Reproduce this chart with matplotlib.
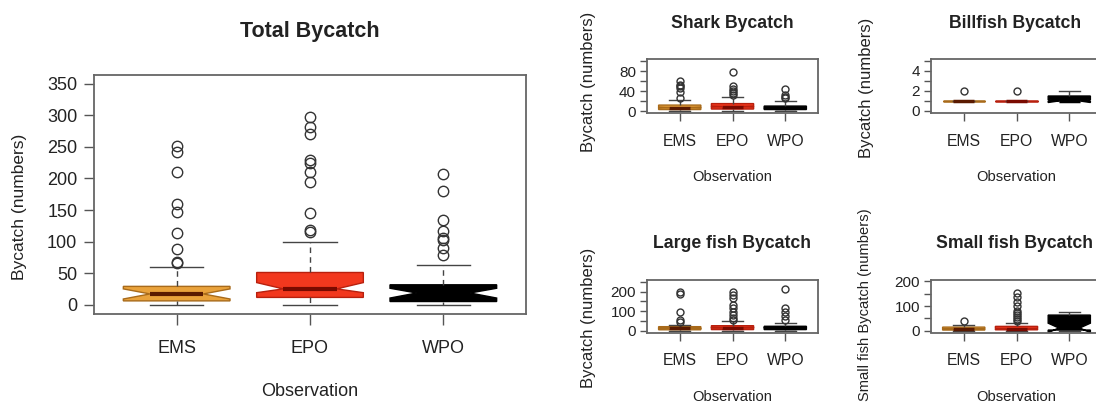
import matplotlib
matplotlib.use("Agg")
import matplotlib.pyplot as plt
from matplotlib.ticker import FixedLocator, FixedFormatter

W, H = 1096, 404

regions = ["EMS", "EPO", "WPO"]
fills = ["#E9A23B", "#F2381E", "#000000"]
edges = ["#A86A1A", "#B8200E", "#000000"]
medians = ["#5A1A00", "#7A0A00", "#000000"]

# whisker low, Q1, median, Q3, whisker high  (EMS, EPO, WPO)
total_stats = [[0, 6, 17, 29, 60], [0, 11.5, 25, 51, 100], [0, 5, 18.5, 31.5, 63]]
total_notch = [[9, 25], [19, 35], [10.5, 26]]
total_out = [[66, 68, 89, 113, 147, 160, 210, 242, 252],
             [115, 118, 145, 195, 210, 224, 230, 271, 282, 297],
             [78, 90, 102, 105, 116, 134, 180, 207]]

shark_stats = [[0, 3, 7, 12, 22], [0, 4, 9, 15, 29], [0, 3, 6, 10, 21]]
shark_notch = [[6, 8], [8, 10], [5, 7]]
shark_out = [[27, 39, 46, 50, 53, 60], [33, 37, 41, 44, 50, 78], [26, 29, 33, 44]]

billfish_stats = [[1, 1, 1, 1, 1], [1, 1, 1, 1, 1], [1, 1, 1, 1.5, 2]]
billfish_notch = [[1, 1], [1, 1], [0.85, 1.15]]
billfish_out = [[2], [2], []]

large_stats = [[0, 4, 12, 20, 31], [0, 5, 15, 25, 47], [0, 5, 14, 22, 39]]
large_notch = [[10, 14], [13, 17], [12, 16]]
large_out = [[42, 56, 98, 189, 200],
             [56, 64, 81, 98, 115, 132, 166, 183, 200],
             [56, 73, 98, 116, 213]]

small_stats = [[0, 2, 6, 14, 24], [0, 3, 8, 17, 31], [0, 2, 10.5, 63, 76]]
small_notch = [[5, 7], [7, 9], [-9, 30]]
small_out = [[37], [40, 48, 55, 62, 70, 78, 98, 116, 135, 155], []]

TXT = "#222222"
FAMILY = ["Liberation Sans", "DejaVu Sans"]

fig = plt.figure(figsize=(W / 100, H / 100), dpi=100)
fig.patch.set_facecolor("white")


def to_ax(box, px, py):
    l, t, r, b = box
    return (px - l) / (r - l), (b - py) / (b - t)


def panel(box, stats, notch, out, ylim, yticks, ylabels, title, ylab, texts,
          small=False, ylab_size=None):
    l, t, r, b = box
    ax = fig.add_axes([l / W, 1 - b / H, (r - l) / W, (b - t) / H])
    bstats = []
    for s, n, o, name in zip(stats, notch, out, regions):
        bstats.append(dict(whislo=s[0], q1=s[1], med=s[2], q3=s[3], whishi=s[4],
                           cilo=n[0], cihi=n[1], fliers=o, label=name))
    bp = ax.bxp(bstats, positions=[1, 2, 3], widths=0.8, shownotches=True,
                patch_artist=True, showcaps=True,
                whiskerprops=dict(color="#444444", lw=1.0, linestyle=(0, (4, 3))),
                capprops=dict(color="#444444", lw=1.0),
                flierprops=dict(marker="o", markerfacecolor="none",
                                markeredgecolor="#333333",
                                markersize=5 if small else 7.5, markeredgewidth=1.0))
    for i, patch in enumerate(bp["boxes"]):
        patch.set_facecolor(fills[i])
        patch.set_edgecolor(edges[i])
        patch.set_linewidth(1.0)
    for i, med in enumerate(bp["medians"]):
        med.set_color(medians[i])
        med.set_linewidth(2.5 if small else 3)

    ax.set_xlim(0.38, 3.62)
    ax.set_ylim(*ylim)
    ax.yaxis.set_major_locator(FixedLocator(yticks))
    ax.yaxis.set_major_formatter(FixedFormatter(ylabels))
    ax.set_xticks([1, 2, 3])
    ax.set_xticklabels(regions)
    for sp in ax.spines.values():
        sp.set_color("#666666")
        sp.set_linewidth(1.3)
    ax.tick_params(axis="both", colors="#555555", width=1.0, labelcolor=TXT)
    if small:
        ax.tick_params(axis="x", length=6, pad=9, labelsize=11.3)
        ax.tick_params(axis="y", length=5, pad=3, labelsize=11)
    else:
        ax.tick_params(axis="x", length=8, pad=11, labelsize=13)
        ax.tick_params(axis="y", length=7, pad=5, labelsize=13)
    for lab in ax.get_xticklabels() + ax.get_yticklabels():
        lab.set_family(FAMILY)

    tx, ty = to_ax(box, *texts["title"])
    ax.set_title(title, x=tx, y=ty, pad=0, fontsize=12.7 if small else 15.5,
                 fontweight="bold", family=FAMILY, color=TXT, va="center")
    ax.set_xlabel("Observation", fontsize=10.6 if small else 13, family=FAMILY,
                  color=TXT)
    ax.xaxis.set_label_coords(*to_ax(box, *texts["xlabel"]))
    ax.xaxis.label.set_va("center")
    if ylab_size is None:
        ylab_size = 12 if small else 12.5
    ax.set_ylabel(ylab, fontsize=ylab_size, family=FAMILY, color=TXT)
    ax.yaxis.set_label_coords(*to_ax(box, *texts["ylabel"]))
    ax.yaxis.label.set_va("center")
    return ax


panel((94, 75, 526, 313.5), total_stats, total_notch, total_out,
      (-14, 364), list(range(0, 351, 50)), [str(v) for v in range(0, 351, 50)],
      "Total Bycatch", "Bycatch (numbers)",
      dict(title=(310, 32), xlabel=(310, 392), ylabel=(20, 207)))

panel((647, 59, 818, 113), shark_stats, shark_notch, shark_out,
      (-4, 105), [0, 20, 40, 60, 80, 100], ["0", "", "40", "", "80", ""],
      "Shark Bycatch", "Bycatch (numbers)",
      dict(title=(732, 23), xlabel=(732, 177), ylabel=(588, 82)), small=True)

panel((931, 59, 1102, 113), billfish_stats, billfish_notch, billfish_out,
      (-0.2, 5.2), [0, 1, 2, 3, 4, 5], ["0", "", "2", "", "4", ""],
      "Billfish Bycatch", "Bycatch (numbers)",
      dict(title=(1015, 23), xlabel=(1016, 177), ylabel=(867, 88)), small=True)

panel((647, 280, 818, 332.5), large_stats, large_notch, large_out,
      (-10, 260), [0, 50, 100, 150, 200, 250], ["0", "", "100", "", "200", ""],
      "Large fish Bycatch", "Bycatch (numbers)",
      dict(title=(732, 243), xlabel=(732, 397), ylabel=(588, 318)), small=True)

panel((931, 280, 1102, 332.5), small_stats, small_notch, small_out,
      (-8, 206), [0, 50, 100, 150, 200], ["0", "", "100", "", "200"],
      "Small fish Bycatch", "Small fish Bycatch (numbers)",
      dict(title=(1014, 243), xlabel=(1016, 397), ylabel=(865, 305)), small=True,
      ylab_size=10.6)

fig.savefig("out.png", dpi=100, facecolor="white")
